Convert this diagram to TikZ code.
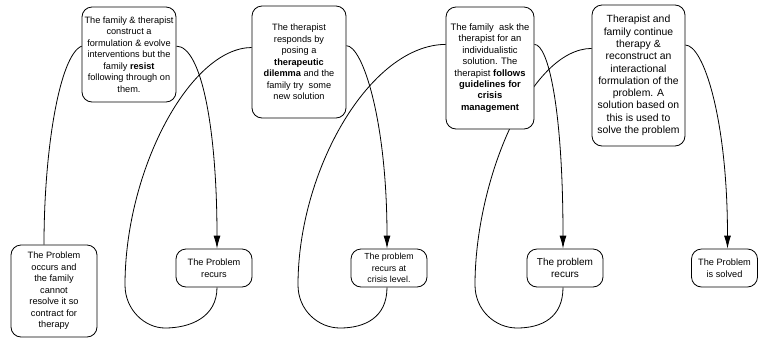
\documentclass[tikz,border=0pt]{standalone}
\usepackage{fontspec}
\setmainfont{Liberation Sans}
\usetikzlibrary{
  arrows.meta,
  backgrounds
}

\begin{document}
\begin{tikzpicture}[x=1pt, y=-1pt,
  box/.style={draw, fill=white, rounded corners=10pt, align=center, inner sep=1pt,
    line width=0.8pt, font=\fontsize{9.2}{11.5}\selectfont},
  link/.style={line width=0.8pt},
  linkarrow/.style={link, -{Latex[length=13pt,width=7pt]}}]
  \useasboundingbox (0,0) rectangle (758,338);
  % Top row: therapy steps
  \node[box, minimum width=94pt, minimum height=95pt] (form) at (129,54.5)
    {The family \& therapist\\construct a\\formulation \& evolve\\interventions but the\\family \textbf{resist}\\following through on\\them.};
  \node[box, minimum width=94pt, minimum height=112pt] (dilemma) at (299,62)
    {The therapist\\responds by\\posing a\\\textbf{therapeutic}\\\textbf{dilemma} and the\\family try\ \ some\\new solution};
  \node[box, minimum width=88pt, minimum height=122pt, font=\fontsize{9.4}{11.4}\selectfont] (crisis) at (490,68)
    {The family\ \ ask the\\therapist for an\\individualistic\\solution. The\\therapist \textbf{follows}\\\textbf{guidelines for}\\\textbf{crisis}\\\textbf{management}};
  \node[box, minimum width=93pt, minimum height=141pt, font=\fontsize{10.4}{12.3}\selectfont] (solve) at (638.5,75.5)
    {Therapist and\\family continue\\therapy \&\\reconstruct an\\interactional\\formulation of the\\problem. A\\solution based on\\this is used to\\solve the problem};
  % Bottom row: state of the problem
  \node[box, minimum width=86pt, minimum height=92pt] (occur) at (54,291)
    {The Problem\\occurs and\\the family\\cannot\\resolve it so\\contract for\\therapy};
  \node[box, minimum width=76pt, minimum height=38pt] (recur) at (214,268) {The Problem\\recurs};
  \node[box, minimum width=76pt, minimum height=38pt, font=\fontsize{8.8}{11.5}\selectfont] (recurcrisis) at (389,268)
    {The problem\\recurs at\\crisis level.};
  \node[box, minimum width=76pt, minimum height=38pt, font=\fontsize{10}{12}\selectfont] (recuragain) at (565,268)
    {The problem\\recurs};
  \node[box, minimum width=66pt, minimum height=38pt] (solved) at (724.5,268) {The Problem\\is solved};
  % Connectors (behind the boxes)
  \begin{scope}[on background layer]
    \draw[link] ([xshift=-10pt]occur.north) .. controls +(0,-95) and +(-22,9) .. (form.170);
    \draw[linkarrow] (form.10) .. controls +(25,0) and +(0,-120) .. ([xshift=3pt]recur.north);
    \draw[link] ([xshift=3pt]recur.south) .. controls +(0,30) and (190,328) .. (165,328)
      .. controls (145,328) and (125,310) .. (125,285)
      .. controls (125,170) and (190,48) .. (dilemma.163);
    \draw[linkarrow] (dilemma.19) .. controls +(16,0) and +(0,-129) .. ([xshift=-2pt]recurcrisis.north);
    \draw[link] ([xshift=-2pt]recurcrisis.south) .. controls +(0,30) and (365,328) .. (340,328)
      .. controls (318,328) and (298,310) .. (298,285)
      .. controls (298,170) and (370,45) .. (crisis.152);
    \draw[linkarrow] (crisis.28) .. controls +(14,0) and +(0,-139) .. ([xshift=-2pt]recuragain.north);
    \draw[link] ([xshift=-2pt]recuragain.south) .. controls +(0,30) and (542,328) .. (517,328)
      .. controls (495,328) and (475,310) .. (475,285)
      .. controls (475,180) and (530,49) .. (solve.150);
    \draw[linkarrow] (solve.33) .. controls +(18,0) and +(0,-130) .. ([xshift=3pt]solved.north);
  \end{scope}
\end{tikzpicture}
\end{document}
